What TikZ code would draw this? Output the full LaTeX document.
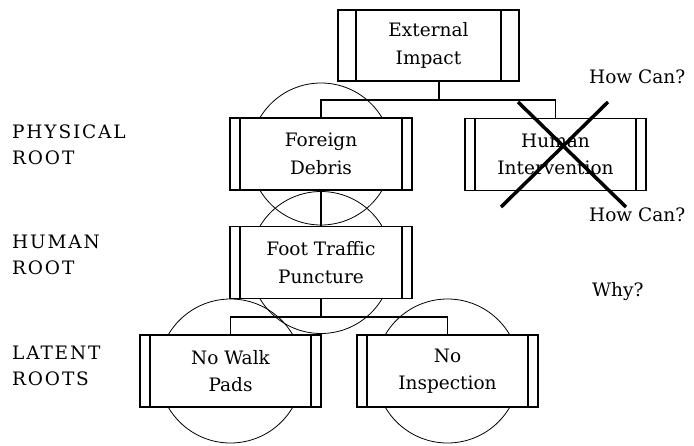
\documentclass[tikz,border=0pt]{standalone}
\usepackage{fontspec}
\setmainfont{DejaVu Serif}
\begin{document}
\begin{tikzpicture}[x=1pt,y=-1pt,
  every node/.style={font=\fontsize{18.5}{27.5}\selectfont, inner sep=0pt},
  bar/.store in=\barw, bar=10,
  proc/.style={draw, line width=1.2pt, fill=white, rectangle, align=center,
    minimum width=181pt, minimum height=72pt,
    path picture={
      \draw[line width=1.2pt] ([xshift=\barw pt]path picture bounding box.north west) -- ([xshift=\barw pt]path picture bounding box.south west);
      \draw[line width=1.2pt] ([xshift=-\barw pt]path picture bounding box.north east) -- ([xshift=-\barw pt]path picture bounding box.south east);
    }},
  ring/.style={draw, line width=0.8pt},
  conn/.style={draw, line width=1.2pt},
  lbl/.style={anchor=west, align=left, font=\fontsize{18.5}{25.5}\selectfont\addfontfeatures{LetterSpace=10}},
  cross/.style={line width=3.5pt}
]
\useasboundingbox (0,0) rectangle (694,445);

% circles (behind boxes)
\draw[ring] (321,154) circle (71);
\draw[ring] (321,262.5) circle (71);
\draw[ring] (230.5,371) circle (72);
\draw[ring] (447.5,371) circle (72);

% boxes
\node[proc, bar=18, minimum width=181pt, minimum height=71pt] (ei) at (428.5,45.5) {External\\Impact};
\node[proc, minimum width=182pt] (fd) at (321,154) {Foreign\\Debris};
\node[proc] (hi) at (555.5,154.5) {Human\\Intervention};
\node[proc, minimum width=182pt] (ft) at (321,262.5) {Foot Traffic\\Puncture};
\node[proc] (nw) at (230.5,371) {No Walk\\Pads};
\node[proc] (ni) at (447.5,371) {No\\Inspection};

% connectors
\coordinate (b1) at (439,100);
\coordinate (b2) at (321,317);
\draw[conn] (ei.south -| b1) -- (b1);
\draw[conn] (fd.north) |- (b1) -| (hi.north);
\draw[conn] (fd.south) -- (ft.north);
\draw[conn] (ft.south) -- (b2);
\draw[conn] (nw.north) |- (b2) -| (ni.north);

% cross
\coordinate (c1) at (518,102);
\coordinate (c2) at (626,207);
\coordinate (c3) at (608,102);
\coordinate (c4) at (501,207);
\draw[cross] (c1) -- (c2);
\draw[cross] (c3) -- (c4);

% labels
\node[lbl] (l1) at (12,145) {PHYSICAL\\ROOT};
\node[lbl] (l2) at (12,255) {HUMAN\\ROOT};
\node[lbl] (l3) at (12,366) {LATENT\\ROOTS};
\node[anchor=west] (h1) at (589,77) {How Can?};
\node[anchor=west] (h2) at (589,215) {How Can?};
\node[anchor=west] (w1) at (592,292) {Why?};
\end{tikzpicture}
\end{document}
